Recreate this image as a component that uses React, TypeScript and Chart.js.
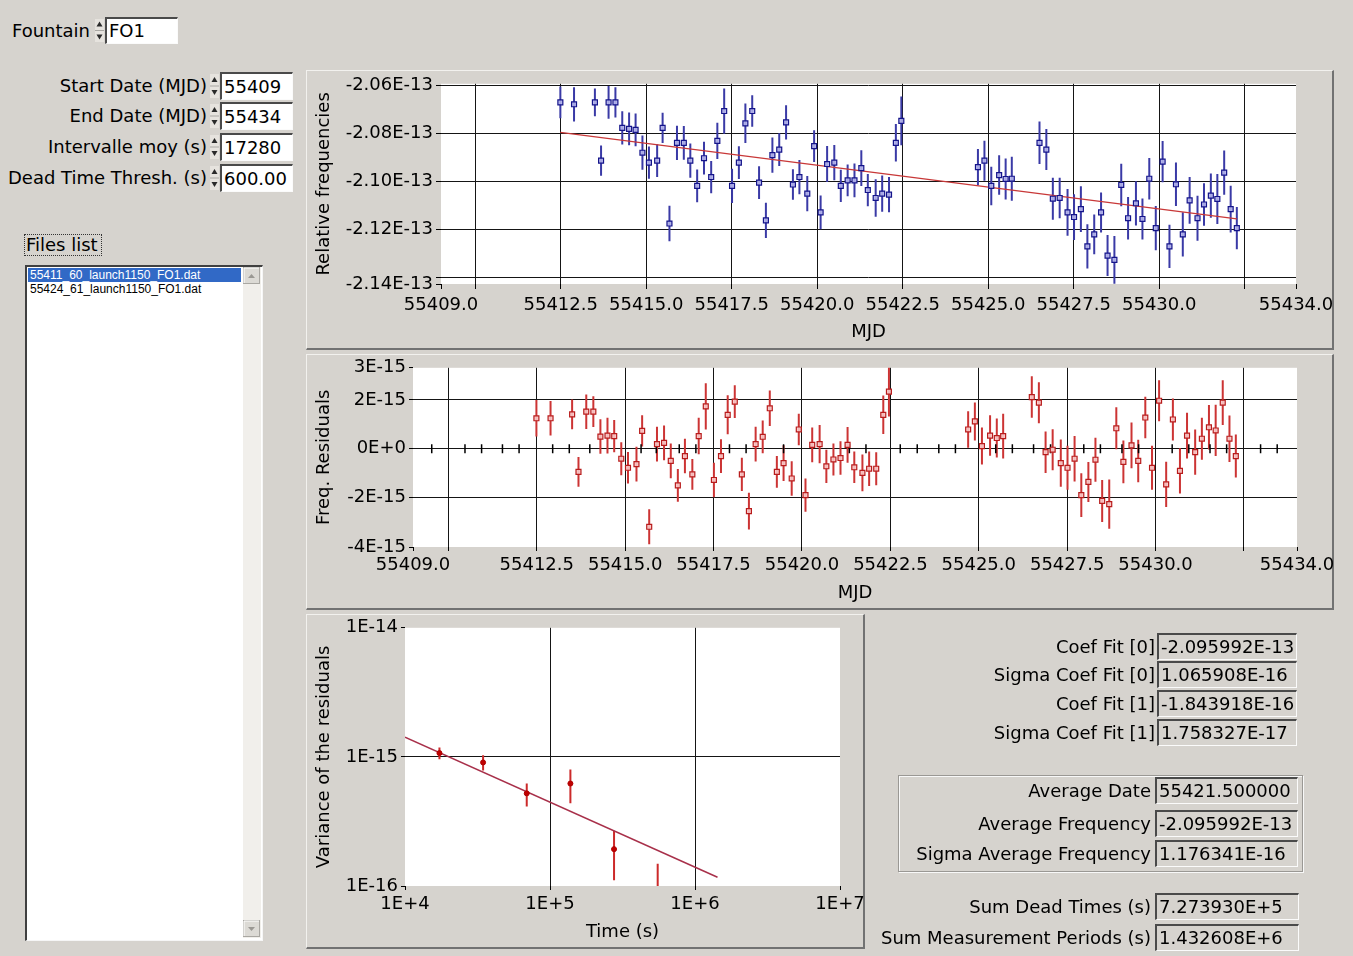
import React, { useEffect, useRef } from 'react';
import { Chart, registerables } from 'chart.js';

Chart.register(...registerables);

// ---------------- DATA ----------------
const MJD = [
  55412.49, 55412.89, 55413.50, 55413.68, 55413.90, 55414.10, 55414.30, 55414.50, 55414.69, 55414.89,
  55415.08, 55415.32, 55415.48, 55415.68, 55415.90, 55416.10, 55416.29, 55416.49, 55416.69, 55416.90,
  55417.08, 55417.28, 55417.51, 55417.71, 55417.90, 55418.10, 55418.30, 55418.50, 55418.69, 55418.89,
  55419.09, 55419.29, 55419.48, 55419.71, 55419.91, 55420.10, 55420.29, 55420.50, 55420.69, 55420.89,
  55421.09, 55421.29, 55421.48, 55421.71, 55421.90, 55422.10, 55422.30, 55422.46,
  55424.70, 55424.89, 55425.09, 55425.32, 55425.51, 55425.69,
  55426.50, 55426.70, 55426.89, 55427.09, 55427.32, 55427.51, 55427.71, 55427.90, 55428.10, 55428.30,
  55428.49, 55428.69, 55428.89, 55429.09, 55429.32, 55429.51, 55429.71, 55429.90, 55430.10, 55430.30,
  55430.49, 55430.69, 55430.89, 55431.12, 55431.31, 55431.51, 55431.70, 55431.90, 55432.09, 55432.27,
];

// relative frequency, in units of 1E-13
const FREQ_E13 = [
  -2.0671, -2.0679, -2.0671, -2.0913, -2.0671, -2.0671, -2.0777, -2.0781, -2.0785, -2.0880,
  -2.0921, -2.0913, -2.0777, -2.1174, -2.0839, -2.0839, -2.0913, -2.1018, -2.0903, -2.0981,
  -2.0831, -2.0707, -2.1018, -2.0921, -2.0758, -2.0707, -2.1004, -2.1161, -2.0890, -2.0867,
  -2.0754, -2.1012, -2.0981, -2.1050, -2.0853, -2.1128, -2.0927, -2.0921, -2.1018, -2.0995,
  -2.0995, -2.0944, -2.1035, -2.1068, -2.1050, -2.1054, -2.0839, -2.0748,
  -2.0940, -2.0913, -2.1018, -2.0973, -2.0989, -2.0988,
  -2.0839, -2.0867, -2.1071, -2.1068, -2.1128, -2.1147, -2.1114, -2.1269, -2.1219, -2.1128,
  -2.1307, -2.1325, -2.1014, -2.1152, -2.1090, -2.1155, -2.0988, -2.1193, -2.0917, -2.1269,
  -2.1011, -2.1219, -2.1078, -2.1152, -2.1095, -2.1058, -2.1072, -2.0963, -2.1114, -2.1193,
];

// 1-sigma error of each frequency point, in units of 1E-16
const FREQ_SIGMA_E16 = [
  6.6, 7.1, 5.8, 6.3, 6.8, 6.3, 6.9, 6.8, 6.8, 7.1,
  6.7, 6.8, 6.3, 7.4, 7.1, 7.0, 7.1, 6.8, 6.8, 6.7,
  7.5, 9.4, 7.1, 6.8, 8.2, 6.5, 6.8, 7.3, 7.3, 6.8,
  7.1, 6.3, 7.1, 7.3, 6.6, 7.0, 7.5, 7.3, 6.7, 6.6,
  7.0, 7.4, 6.7, 7.8, 7.5, 7.3, 7.8, 10.1,
  7.5, 8.3, 8.0, 8.2, 8.5, 9.1,
  8.8, 8.5, 8.7, 8.4, 9.7, 9.5, 9.5, 9.2, 8.2, 8.3,
  8.5, 9.9, 8.8, 8.8, 9.2, 8.5, 8.6, 9.2, 8.6, 9.0,
  9.0, 9.2, 9.7, 9.3, 8.8, 9.2, 10.4, 9.2, 9.7, 8.8,
];

// linear fit drawn on the frequency plot (units of 1E-13)
const FIT_MJD = [55412.49, 55432.27];
const FIT_FREQ_E13 = [-2.0796, -2.1155];

// residuals, in units of 1E-15
const RESID_E15 = [
  1.25, 1.25, 1.41, -0.95, 1.52, 1.52, 0.50, 0.54, 0.52, -0.41,
  -0.78, -0.63, 0.73, -3.20, 0.19, 0.24, -0.50, -1.50, -0.30, -1.05,
  0.52, 1.74, -1.28, -0.30, 1.39, 1.93, -1.05, -2.56, 0.19, 0.49,
  1.66, -0.95, -0.59, -1.22, 0.79, -1.90, 0.16, 0.19, -0.72, -0.44,
  -0.38, 0.16, -0.76, -0.99, -0.82, -0.82, 1.39, 2.34,
  0.79, 1.12, 0.11, 0.54, 0.44, 0.52,
  2.12, 1.89, -0.14, -0.04, -0.59, -0.78, -0.41, -1.90, -1.36, -0.45,
  -2.14, -2.27, 0.84, -0.54, 0.14, -0.50, 1.28, -0.78, 1.97, -1.46,
  1.20, -0.91, 0.54, -0.14, 0.41, 0.88, 0.75, 1.89, 0.41, -0.30,
];

const RESID_SIGMA_E15 = [
  0.75, 0.71, 0.61, 0.61, 0.71, 0.63, 0.71, 0.73, 0.66, 0.68,
  0.65, 0.71, 0.64, 0.72, 0.71, 0.71, 0.71, 0.67, 0.71, 0.63,
  0.75, 0.95, 0.71, 0.69, 0.80, 0.67, 0.68, 0.75, 0.71, 0.67,
  0.73, 0.65, 0.73, 0.71, 0.65, 0.68, 0.71, 0.78, 0.68, 0.66,
  0.69, 0.73, 0.65, 0.75, 0.71, 0.68, 0.79, 1.02,
  0.75, 0.78, 0.76, 0.83, 0.80, 0.92,
  0.85, 0.84, 0.85, 0.84, 0.97, 0.90, 0.93, 0.90, 0.82, 0.90,
  0.86, 1.01, 0.86, 0.88, 0.94, 0.87, 0.85, 0.90, 0.84, 0.93,
  0.86, 0.93, 0.94, 0.93, 0.86, 0.91, 1.05, 0.92, 0.95, 0.88,
];

// small markers drawn on the zero line of the residual plot
const ZERO_MARKS_MJD = [
  55409.53, 55410.47, 55410.94, 55411.53, 55412.0, 55412.95, 55413.42, 55414.0, 55415.45, 55415.88,
  55416.53, 55417.0, 55417.95, 55418.42, 55419.48, 55421.34, 55421.81, 55422.78, 55423.26, 55423.87,
  55424.34, 55425.48, 55425.95, 55426.55, 55427.03, 55427.97, 55428.44, 55429.05, 55429.52, 55430.47,
  55430.94, 55431.54, 55432.01, 55432.97, 55433.44,
];

// variance of the residuals vs averaging time
const TAU_S = [17280, 34560, 69120, 138240, 276480, 552960];
const VARIANCE = [1.07e-15, 9.06e-16, 5.22e-16, 6.22e-16, 1.93e-16, 6.0e-17];
const VARIANCE_HI = [1.185e-15, 1.03e-15, 6.22e-16, 8.0e-16, 2.68e-16, 1.49e-16];
const VARIANCE_LO = [9.57e-16, 7.85e-16, 4.12e-16, 4.37e-16, 1.11e-16, 1.0e-17];
const VAR_FIT_TAU = [1e4, 1.43e6];
const VAR_FIT = [1.42e-15, 1.17e-16];

// axes
const MJD_MIN = 55409;
const MJD_MAX = 55434;
const MJD_TICKS = [55409, 55410, 55412.5, 55415, 55417.5, 55420, 55422.5, 55425, 55427.5, 55430, 55432.5, 55434];
const MJD_TICK_LABELS = ['55409.0', '', '55412.5', '55415.0', '55417.5', '55420.0', '55422.5', '55425.0', '55427.5', '55430.0', '', '55434.0'];

const FREQ_MIN = -2.1425;
const FREQ_MAX = -2.0594;
const FREQ_TICKS = [-2.1425, -2.14, -2.12, -2.10, -2.08, -2.06];
const FREQ_TICK_LABELS = ['-2.14E-13', '', '-2.12E-13', '-2.10E-13', '-2.08E-13', '-2.06E-13'];

const RESID_MIN = -4.03;
const RESID_MAX = 3.32;
const RESID_TICKS = [-4.03, -2, 0, 2, 3.32];
const RESID_TICK_LABELS = ['-4E-15', '-2E-15', '0E+0', '2E-15', '3E-15'];

const TIME_TICKS = [1e4, 1e5, 1e6, 1e7];
const TIME_TICK_LABELS = ['1E+4', '1E+5', '1E+6', '1E+7'];
const VAR_TICKS = [1e-16, 1e-15, 1e-14];
const VAR_TICK_LABELS = ['1E-16', '1E-15', '1E-14'];

const FILES = ['55411_60_launch1150_FO1.dat', '55424_61_launch1150_FO1.dat'];

const CONTROLS = [
  { label: 'Start Date (MJD)', value: '55409', y: 72 },
  { label: 'End Date (MJD)', value: '55434', y: 102 },
  { label: 'Intervalle moy (s)', value: '17280', y: 133 },
  { label: 'Dead Time Thresh. (s)', value: '600.00', y: 164 },
];

const FIT_RESULTS = [
  { label: 'Coef Fit [0]', value: '-2.095992E-13', y: 633 },
  { label: 'Sigma Coef Fit [0]', value: '1.065908E-16', y: 661 },
  { label: 'Coef Fit [1]', value: '-1.843918E-16', y: 690 },
  { label: 'Sigma Coef Fit [1]', value: '1.758327E-17', y: 719 },
];

const AVERAGES = [
  { label: 'Average Date', value: '55421.500000', y: 777 },
  { label: 'Average Frequency', value: '-2.095992E-13', y: 810 },
  { label: 'Sigma Average Frequency', value: '1.176341E-16', y: 840 },
];

const SUMS = [
  { label: 'Sum Dead Times (s)', value: '7.273930E+5', y: 893 },
  { label: 'Sum Measurement Periods (s)', value: '1.432608E+6', y: 924 },
];

// ---------------- STYLE ----------------
const FONT_FAMILY = "'DejaVu Sans', 'Liberation Sans', sans-serif";
const BG = '#d6d3ce';
const chartFont: any = { family: FONT_FAMILY, size: 18, weight: 'normal' };

const plotBackground = {
  id: 'plotBackground',
  beforeDraw(chart: any) {
    const { ctx, chartArea: a } = chart;
    ctx.save();
    ctx.fillStyle = '#ffffff';
    ctx.fillRect(a.left, a.top, a.right - a.left, a.bottom - a.top);
    ctx.restore();
  },
};

const errorBars = {
  id: 'errorBars',
  beforeDatasetsDraw(chart: any) {
    const { ctx, chartArea: a, scales } = chart;
    ctx.save();
    ctx.beginPath();
    ctx.rect(a.left, a.top, a.right - a.left, a.bottom - a.top);
    ctx.clip();
    chart.data.datasets.forEach((ds: any) => {
      if (!ds.errLo) return;
      ctx.strokeStyle = ds.errColor;
      ctx.lineWidth = ds.errWidth;
      ds.data.forEach((p: any, i: number) => {
        const px = scales.x.getPixelForValue(p.x);
        ctx.beginPath();
        ctx.moveTo(px, scales.y.getPixelForValue(ds.errHi[i]));
        ctx.lineTo(px, scales.y.getPixelForValue(ds.errLo[i]));
        ctx.stroke();
      });
    });
    ctx.restore();
  },
};

const isEdge = (v: number, s: any) =>
  Math.abs(v - s.min) <= Math.abs(s.min) * 1e-9 || Math.abs(v - s.max) <= Math.abs(s.max) * 1e-9;

function axis(
  kind: string, min: number, max: number, tickValues: number[], tickLabels: string[],
  thickness: number, horizontal: boolean, tickLength: number, tickPad: number,
  title: string, titlePad: number,
) {
  return {
    type: kind,
    min,
    max,
    bounds: 'data',
    afterBuildTicks: (s: any) => {
      s.ticks = tickValues.map((value) => ({ value }));
    },
    afterFit: (s: any) => {
      if (horizontal) s.height = thickness;
      else s.width = thickness;
    },
    ticks: {
      autoSkip: false,
      maxRotation: 0,
      minRotation: 0,
      padding: tickPad,
      color: '#000',
      font: chartFont,
      callback: (_v: any, i: number) => tickLabels[i] ?? '',
    },
    grid: {
      color: (c: any) => (c.tick && isEdge(c.tick.value, c.scale) ? 'rgba(0,0,0,0)' : '#151515'),
      lineWidth: 1,
      drawTicks: true,
      tickLength,
      tickColor: '#000',
      tickWidth: 1,
    },
    border: { display: false },
    title: {
      display: true,
      text: title,
      color: '#000',
      font: chartFont,
      padding: horizontal ? { top: 0, bottom: titlePad } : { top: titlePad, bottom: 0 },
    },
  };
}

const baseOptions = (padTop: number, padRight: number) => ({
  responsive: false,
  animation: false,
  events: [],
  layout: { padding: { left: 0, top: padTop, right: padRight, bottom: 0 } },
  plugins: { legend: { display: false }, tooltip: { enabled: false } },
});

function freqConfig(): any {
  return {
    type: 'scatter',
    data: {
      datasets: [
        {
          data: MJD.map((x, i) => ({ x, y: FREQ_E13[i] })),
          errLo: FREQ_E13.map((v, i) => v - FREQ_SIGMA_E16[i] * 0.001),
          errHi: FREQ_E13.map((v, i) => v + FREQ_SIGMA_E16[i] * 0.001),
          errColor: '#3a3aa6',
          errWidth: 2,
          pointStyle: 'rect',
          pointRadius: 3.5,
          pointBorderColor: '#14148a',
          borderColor: '#14148a',
          pointBackgroundColor: 'rgba(180,180,235,0.9)',
          backgroundColor: 'rgba(180,180,235,0.9)',
          pointBorderWidth: 1.2,
          order: 0,
        },
        {
          data: FIT_MJD.map((x, i) => ({ x, y: FIT_FREQ_E13[i] })),
          showLine: true,
          pointRadius: 0,
          borderColor: '#c83838',
          borderWidth: 1.3,
          order: 1,
        },
      ],
    },
    options: {
      ...baseOptions(12, 57),
      scales: {
        x: axis('linear', MJD_MIN, MJD_MAX, MJD_TICKS, MJD_TICK_LABELS, 65, true, 5, 6, 'MJD', 6),
        y: axis('linear', FREQ_MIN, FREQ_MAX, FREQ_TICKS, FREQ_TICK_LABELS, 134, false, 5, 3, 'Relative frequencies', 7),
      },
    },
    plugins: [plotBackground, errorBars],
  };
}

function residConfig(): any {
  return {
    type: 'scatter',
    data: {
      datasets: [
        {
          data: MJD.map((x, i) => ({ x, y: RESID_E15[i] })),
          errLo: RESID_E15.map((v, i) => v - RESID_SIGMA_E15[i]),
          errHi: RESID_E15.map((v, i) => v + RESID_SIGMA_E15[i]),
          errColor: '#cc3434',
          errWidth: 2,
          pointStyle: 'rect',
          pointRadius: 3.5,
          pointBorderColor: '#b81c1c',
          borderColor: '#b81c1c',
          pointBackgroundColor: 'rgba(250,200,200,0.9)',
          backgroundColor: 'rgba(250,200,200,0.9)',
          pointBorderWidth: 1.2,
          order: 0,
        },
        {
          data: ZERO_MARKS_MJD.map((x) => ({ x, y: 0 })),
          pointStyle: 'line',
          pointRotation: 90,
          pointRadius: 4.5,
          pointBorderColor: '#000',
          borderColor: '#000',
          pointBorderWidth: 1.5,
          order: 1,
        },
      ],
    },
    options: {
      ...baseOptions(13, 56),
      scales: {
        x: axis('linear', MJD_MIN, MJD_MAX, MJD_TICKS, MJD_TICK_LABELS, 62, true, 4, 4, 'MJD', 5),
        y: axis('linear', RESID_MIN, RESID_MAX, RESID_TICKS, RESID_TICK_LABELS, 106, false, 4, 3, 'Freq. Residuals', 7),
      },
    },
    plugins: [plotBackground, errorBars],
  };
}

function varianceConfig(): any {
  return {
    type: 'scatter',
    data: {
      datasets: [
        {
          data: TAU_S.map((x, i) => ({ x, y: VARIANCE[i] })),
          errLo: VARIANCE_LO,
          errHi: VARIANCE_HI,
          errColor: '#cc2a2a',
          errWidth: 2,
          pointStyle: 'circle',
          pointRadius: 2.5,
          pointBorderColor: '#b00000',
          borderColor: '#b00000',
          pointBackgroundColor: '#c00000',
          backgroundColor: '#c00000',
          pointBorderWidth: 1,
          order: 0,
        },
        {
          data: VAR_FIT_TAU.map((x, i) => ({ x, y: VAR_FIT[i] })),
          showLine: true,
          pointRadius: 0,
          borderColor: '#a8304a',
          borderWidth: 1.5,
          order: 1,
        },
      ],
    },
    options: {
      ...baseOptions(11, 34),
      scales: {
        x: axis('logarithmic', 1e4, 1e7, TIME_TICKS, TIME_TICK_LABELS, 62, true, 4, 4, 'Time (s)', 5),
        y: axis('logarithmic', 1e-16, 1e-14, VAR_TICKS, VAR_TICK_LABELS, 98, false, 4, 3, 'Variance of the residuals', 7),
      },
    },
    plugins: [plotBackground, errorBars],
  };
}

// ---------------- COMPONENTS ----------------
function ChartCanvas({ left, top, width, height, make }: any) {
  const ref = useRef<HTMLCanvasElement>(null);
  useEffect(() => {
    const chart = new Chart(ref.current as HTMLCanvasElement, make());
    return () => chart.destroy();
  }, []);
  return (
    <canvas
      ref={ref}
      width={width}
      height={height}
      style={{ position: 'absolute', left, top, width, height }}
    />
  );
}

function Panel({ x, y, w, h }: any) {
  return (
    <div
      style={{
        position: 'absolute', left: x, top: y, width: w, height: h, boxSizing: 'border-box',
        borderTop: '1px solid #f2f1ee', borderLeft: '1px solid #f2f1ee',
        borderRight: '2px solid #727272', borderBottom: '2px solid #727272',
      }}
    />
  );
}

function Spinner({ x, y, h }: any) {
  const w = 9;
  const m = h / 2;
  return (
    <svg style={{ position: 'absolute', left: x, top: y }} width={w} height={h}>
      <rect x={0} y={0} width={w} height={h} fill="#e6e3de" />
      <line x1={0} y1={m} x2={w} y2={m} stroke="#a8a6a2" strokeWidth={1} />
      <polygon points={`1.5,${m - 4} 4.5,${m - 9} 7.5,${m - 4}`} fill="#2a2a2a" />
      <polygon points={`1.5,${m + 4} 4.5,${m + 9} 7.5,${m + 4}`} fill="#2a2a2a" />
    </svg>
  );
}

function Field({ x, y, w, h, text, white }: any) {
  return (
    <div
      style={{
        position: 'absolute', left: x, top: y, width: w, height: h, boxSizing: 'border-box',
        background: white ? '#fff' : BG,
        borderTop: '2px solid #4a4a4a', borderLeft: '2px solid #4a4a4a',
        borderRight: '1px solid #fbfbfb', borderBottom: '1px solid #fbfbfb',
        fontFamily: FONT_FAMILY, fontSize: 18, lineHeight: `${h - 3}px`, paddingLeft: 2,
        whiteSpace: 'nowrap', overflow: 'hidden', color: '#000',
      }}
    >
      {text}
    </div>
  );
}

function Label({ right, y, h, text }: any) {
  return (
    <div
      style={{
        position: 'absolute', left: 0, width: right, top: y, height: h,
        fontFamily: FONT_FAMILY, fontSize: 18, lineHeight: `${h}px`,
        textAlign: 'right', whiteSpace: 'nowrap', color: '#000',
      }}
    >
      {text}
    </div>
  );
}

function ScrollButton({ x, y, up }: any) {
  return (
    <svg style={{ position: 'absolute', left: x, top: y }} width={17} height={17}>
      <rect x={0.5} y={0.5} width={16} height={16} fill="#dcdad5" stroke="#a9a7a2" />
      <line x1={1} y1={1} x2={16} y2={1} stroke="#ffffff" />
      <line x1={1} y1={1} x2={1} y2={16} stroke="#ffffff" />
      {up ? (
        <polygon points="5,11 8.5,7 12,11" fill="#9a9893" />
      ) : (
        <polygon points="5,7 8.5,11 12,7" fill="#9a9893" />
      )}
    </svg>
  );
}

export default function App() {
  return (
    <div
      style={{
        position: 'fixed', left: 0, top: 0, width: 1353, height: 956, overflow: 'hidden',
        background: BG, fontFamily: FONT_FAMILY,
      }}
    >
      {/* Fountain selector */}
      <Label right={90} y={17} h={27} text="Fountain" />
      <Spinner x={95} y={19} h={23} />
      <Field x={105} y={17} w={73} h={27} text="FO1" white />

      {/* Date controls */}
      {CONTROLS.map((c) => (
        <React.Fragment key={c.label}>
          <Label right={207} y={c.y} h={28} text={c.label} />
          <Spinner x={210} y={c.y + 2} h={24} />
          <Field x={220} y={c.y} w={73} h={28} text={c.value} white />
        </React.Fragment>
      ))}

      {/* Files list */}
      <div
        style={{
          position: 'absolute', left: 24, top: 234, width: 78, height: 22, boxSizing: 'border-box',
          border: '1px dotted #333', fontFamily: FONT_FAMILY, fontSize: 18, lineHeight: '20px', paddingLeft: 1,
          whiteSpace: 'nowrap',
        }}
      >
        Files list
      </div>
      <div
        style={{
          position: 'absolute', left: 25, top: 265, width: 238, height: 676, boxSizing: 'border-box',
          background: '#fff', borderTop: '2px solid #404040', borderLeft: '2px solid #404040',
          borderRight: '1px solid #f6f6f6', borderBottom: '1px solid #f6f6f6',
        }}
      />
      {FILES.map((f, i) => (
        <div
          key={f}
          style={{
            position: 'absolute', left: 28, top: 268 + i * 14, width: 213, height: 14,
            background: i === 0 ? '#3169c6' : 'transparent', color: i === 0 ? '#fff' : '#000',
            fontFamily: "'Liberation Sans', Arial, sans-serif", fontSize: 12, lineHeight: '14px', paddingLeft: 2,
            boxSizing: 'border-box', whiteSpace: 'nowrap',
          }}
        >
          {f}
        </div>
      ))}
      <div style={{ position: 'absolute', left: 243, top: 267, width: 18, height: 671, background: '#f1efeb' }} />
      <ScrollButton x={243} y={267} up />
      <ScrollButton x={243} y={920} up={false} />

      {/* Chart panels */}
      <Panel x={306} y={70} w={1028} h={280} />
      <Panel x={306} y={354} w={1028} h={256} />
      <Panel x={306} y={614} w={559} h={335} />

      <ChartCanvas left={307} top={70} width={1046} height={279} make={freqConfig} />
      <ChartCanvas left={307} top={354} width={1046} height={255} make={residConfig} />
      <ChartCanvas left={307} top={614} width={567} height={334} make={varianceConfig} />

      {/* Fit results */}
      {FIT_RESULTS.map((r) => (
        <React.Fragment key={r.label}>
          <Label right={1155} y={r.y} h={27} text={r.label} />
          <Field x={1157} y={r.y} w={140} h={27} text={r.value} />
        </React.Fragment>
      ))}

      {/* Averages group */}
      <div
        style={{
          position: 'absolute', left: 898, top: 775, width: 405, height: 97, boxSizing: 'border-box',
          border: '1px solid #9a9894', boxShadow: 'inset 1px 1px 0 #f8f8f8, 1px 1px 0 #f8f8f8',
        }}
      />
      {AVERAGES.map((r) => (
        <React.Fragment key={r.label}>
          <Label right={1151} y={r.y} h={27} text={r.label} />
          <Field x={1155} y={r.y} w={143} h={27} text={r.value} />
        </React.Fragment>
      ))}

      {/* Sums */}
      {SUMS.map((r) => (
        <React.Fragment key={r.label}>
          <Label right={1151} y={r.y} h={27} text={r.label} />
          <Field x={1155} y={r.y} w={144} h={27} text={r.value} />
        </React.Fragment>
      ))}
    </div>
  );
}
